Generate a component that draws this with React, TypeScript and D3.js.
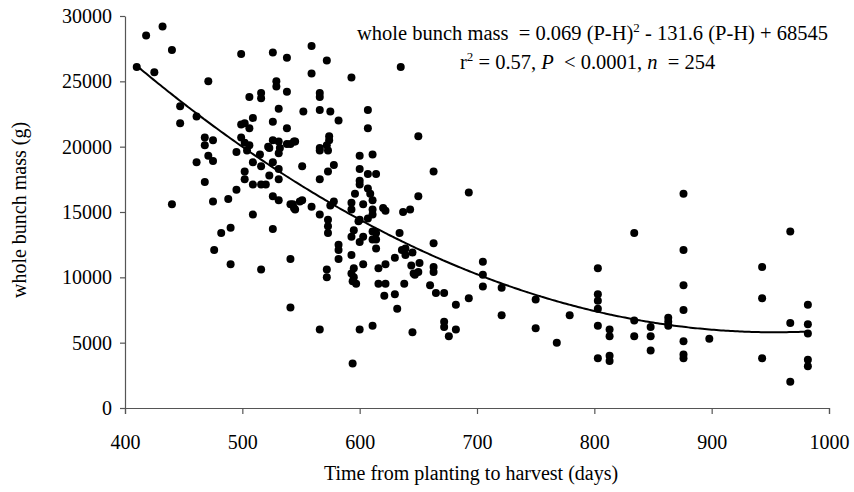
import { useRef, useEffect } from 'react';
import * as d3 from 'd3';

const WIDTH = 854;
const HEIGHT = 492;

// time from planting to harvest (days) and whole bunch mass (g), one entry per bunch
const plantToHarvest = [
  410, 418, 432, 440, 425, 471, 447, 447, 461, 499, 526, 538, 529, 529, 538, 516, 516, 506, 531, 509,
  499, 502, 506, 526, 538, 468, 468, 475, 499, 502, 506, 526, 531, 538, 544, 522, 495, 504, 515, 523,
  531, 532, 541, 461, 471, 475, 509, 516, 526, 531, 502, 523, 502, 509, 516, 520, 531, 468, 495, 440,
  475, 488, 526, 531, 541, 544, 549, 509, 490, 482, 526, 476, 490, 516, 541, 541, 559, 572, 559, 593,
  635, 566, 566, 552, 566, 575, 582, 607, 607, 545, 574, 574, 572, 566, 650, 566, 573, 600, 611, 551,
  578, 573, 566, 600, 607, 614, 663, 600, 600, 607, 609, 596, 611, 650, 551, 543, 545, 559, 566, 575,
  578, 593, 593, 603, 611, 611, 620, 622, 637, 643, 573, 573, 573, 595, 599, 600, 607, 593, 600, 603,
  611, 614, 614, 611, 614, 582, 582, 582, 593, 603, 595, 593, 595, 572, 572, 616, 622, 630, 634, 636,
  639, 639, 645, 663, 644, 651, 647, 650, 663, 663, 594, 597, 616, 622, 621, 630, 638, 646, 660, 665,
  672, 566, 600, 611, 632, 645, 672, 672, 676, 594, 693, 834, 682, 682, 693, 705, 705, 705, 721, 721,
  750, 750, 768, 779, 803, 803, 803, 803, 803, 803, 813, 813, 813, 813, 834, 834, 876, 876, 967, 943,
  876, 943, 982, 876, 848, 848, 848, 863, 863, 863, 876, 876, 876, 898, 967, 982, 982, 943, 982, 982,
  967,
];
const bunchMass = [
  26100, 28500, 29200, 27400, 25700, 25000, 23100, 21800, 22300, 27100, 27200, 26800, 25000, 24600, 24200, 24100, 23700, 23800, 22900, 22200,
  21700, 21800, 21400, 21900, 21400, 20700, 20100, 20500, 20700, 20300, 20100, 20500, 20400, 20200, 20400, 20000, 19600, 19700, 19400, 19900,
  19500, 19900, 20200, 18800, 19300, 18900, 18800, 18500, 18800, 18300, 18100, 17800, 17500, 17100, 17100, 17100, 17500, 17300, 16700, 15600,
  15800, 16000, 16200, 15900, 15600, 15300, 15800, 14800, 13800, 13400, 13700, 12100, 11000, 10600, 11400, 7700, 27700, 26600, 25600, 25300,
  26100, 24100, 23800, 22700, 22800, 22700, 22000, 22800, 21400, 20400, 20800, 20500, 20100, 19900, 20800, 19700, 19700, 19300, 19400, 18500,
  18600, 18100, 17500, 18300, 17900, 17900, 18100, 17400, 17100, 16800, 16400, 16400, 15900, 16200, 15900, 15600, 15200, 15400, 14800, 15500,
  15800, 15700, 15200, 15600, 15200, 14800, 15300, 15100, 15000, 15200, 14400, 13900, 13400, 13600, 14300, 14400, 14500, 13100, 12700, 13100,
  13500, 13400, 12900, 12900, 12200, 12500, 12100, 11400, 11700, 11000, 10700, 10300, 10000, 10600, 10000, 10700, 11000, 11500, 13400, 12100,
  12200, 11700, 11900, 12600, 10900, 11100, 10200, 10400, 10800, 10400, 9700, 9500, 9500, 9500, 8600, 8700, 9500, 10300, 9400, 8800,
  8800, 6000, 6000, 6300, 7600, 5800, 6600, 6200, 5500, 3400, 16500, 13400, 7900, 6000, 8400, 11200, 10200, 9300, 9200, 7100,
  8300, 6100, 5000, 7100, 10700, 8700, 8200, 7600, 6300, 3800, 6000, 5500, 4000, 3600, 6700, 5500, 16400, 12100, 13500, 10800,
  9400, 8400, 7900, 7500, 6200, 5500, 4400, 6900, 6600, 6300, 5100, 4100, 3800, 5300, 6500, 6400, 5700, 3800, 3700, 3200,
  2000,
];

const xTicks = [400, 500, 600, 700, 800, 900, 1000];
const yTicks = [0, 5000, 10000, 15000, 20000, 25000, 30000];

// whole bunch mass = a (P-H)^2 + b (P-H) + c
const fitA = 0.069;
const fitB = -131.6;
const fitC = 68545;
const fitFrom = 410;
const fitTo = 982;

const FONT = '"Liberation Serif", "Times New Roman", serif';

const App = () => {
  const svgRef = useRef<SVGSVGElement>(null);

  useEffect(() => {
    const svg = d3.select(svgRef.current);
    svg.selectAll('*').remove();

    const margin = { top: 16, right: 25, bottom: 84, left: 125 };
    const width = WIDTH - margin.left - margin.right;
    const height = HEIGHT - margin.top - margin.bottom;

    const x = d3.scaleLinear().domain([400, 1000]).range([0, width]);
    const y = d3.scaleLinear().domain([0, 30000]).range([height, 0]);

    const g = svg.append('g')
      .attr('transform', `translate(${margin.left},${margin.top})`);

    // axes
    const xAxis = g.append('g')
      .attr('transform', `translate(0,${height})`)
      .call(d3.axisBottom(x).tickValues(xTicks).tickSize(6).tickSizeOuter(6).tickPadding(21).tickFormat(d3.format('d')));
    const yAxis = g.append('g')
      .call(d3.axisLeft(y).tickValues(yTicks).tickSize(5).tickSizeOuter(0).tickPadding(8).tickFormat(d3.format('d')));

    [xAxis, yAxis].forEach(ax => {
      ax.select('.domain').attr('stroke', '#555').attr('stroke-width', 1.2);
      ax.selectAll('.tick line').attr('stroke', '#555').attr('stroke-width', 1.2);
      ax.selectAll('.tick text')
        .attr('fill', '#000')
        .style('font-family', FONT)
        .style('font-size', '20px');
    });

    // points
    g.append('g')
      .selectAll('circle')
      .data(plantToHarvest.map((d, i) => [d, bunchMass[i]]))
      .join('circle')
      .attr('cx', d => x(d[0]))
      .attr('cy', d => y(d[1]))
      .attr('r', 4)
      .attr('fill', '#000');

    // fitted quadratic
    const curveX = d3.range(fitFrom, fitTo + 1, 2);
    const line = d3.line<number>()
      .x(d => x(d))
      .y(d => y(fitA * d * d + fitB * d + fitC))
      .curve(d3.curveMonotoneX);

    g.append('path')
      .datum(curveX)
      .attr('fill', 'none')
      .attr('stroke', '#000')
      .attr('stroke-width', 2)
      .attr('d', line);

    // axis titles
    svg.append('text')
      .attr('x', margin.left + width / 2 - 6)
      .attr('y', 480)
      .attr('text-anchor', 'middle')
      .style('font-family', FONT)
      .style('font-size', '20px')
      .text('Time from planting to harvest (days)');

    svg.append('text')
      .attr('transform', `translate(26,${margin.top + height / 2 - 2}) rotate(-90)`)
      .attr('text-anchor', 'middle')
      .style('font-family', FONT)
      .style('font-size', '20px')
      .text('whole bunch mass (g)');

    // regression annotation
    const eq = svg.append('text')
      .attr('x', 357)
      .attr('y', 40)
      .style('font-family', FONT)
      .style('font-size', '20.5px')
      .style('white-space', 'pre');
    eq.append('tspan').text('whole bunch mass  = 0.069 (P-H)');
    eq.append('tspan').attr('dy', -8).style('font-size', '13px').text('2');
    eq.append('tspan').attr('dy', 8).text(' - 131.6 (P-H) + 68545');

    const stats = svg.append('text')
      .attr('x', 460)
      .attr('y', 69)
      .style('font-family', FONT)
      .style('font-size', '20.5px')
      .style('white-space', 'pre');
    stats.append('tspan').text('r');
    stats.append('tspan').attr('dy', -8).style('font-size', '13px').text('2');
    stats.append('tspan').attr('dy', 8).text(' = 0.57, ');
    stats.append('tspan').style('font-style', 'italic').text('P');
    stats.append('tspan').text('  < 0.0001, ');
    stats.append('tspan').style('font-style', 'italic').text('n');
    stats.append('tspan').text('  = 254');
  }, []);

  return (
    <svg
      ref={svgRef}
      width={WIDTH}
      height={HEIGHT}
      style={{ position: 'absolute', left: 0, top: 0, background: '#fff' }}
    ></svg>
  );
};

export default App;
